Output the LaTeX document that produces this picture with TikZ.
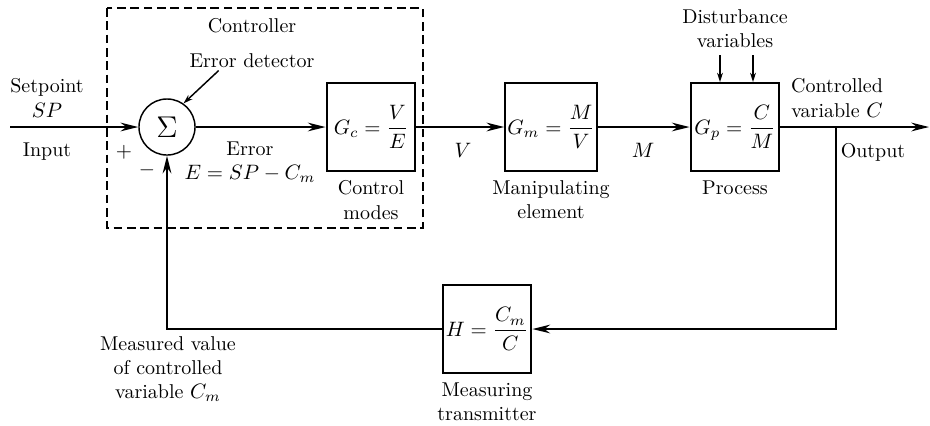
\documentclass[tikz,border=0pt]{standalone}
\usepackage{amsmath}
\usetikzlibrary{arrows.meta, positioning}

\begin{document}
\begin{tikzpicture}[
    x=0.48pt, y=-0.48pt,
    font=\fontsize{9.6}{11.6}\selectfont,
    block/.style={rectangle, draw, line width=0.95pt, minimum width=42.7pt,
        minimum height=42.2pt, inner sep=1pt, align=center},
    sumnode/.style={circle, draw, line width=0.7pt, minimum size=26.9pt, inner sep=0pt},
    lbl/.style={align=center, inner sep=1pt},
    arrow/.style={-{Stealth[length=8.5pt, width=4.2pt]}, line width=0.8pt},
    smallarrow/.style={-{Stealth[length=4.5pt, width=2.8pt]}, line width=0.7pt},
    ctrlframe/.style={draw, dashed, line width=0.8pt, dash pattern=on 4.2pt off 2.2pt}
]
\useasboundingbox (0,0) rectangle (930,425);

% Controller frame
\draw[ctrlframe] (107,8) rectangle (423,228);

% Blocks
\node[sumnode] (sum) at (167,127) {\Large$\Sigma$};
\node[block] (gc) at (371,127) {$G_c = \dfrac{V}{E}$};
\node[block] (gm) at (551,127) {$G_m = \dfrac{M}{V}$};
\node[block] (gp) at (735,127) {$G_p = \dfrac{C}{M}$};
\node[block] (h) at (487,329) {$H = \dfrac{C_m}{C}$};

% Free ends
\coordinate (in) at (10,127);
\coordinate (br) at (836,127);
\coordinate (out) at (929,127);
\coordinate (d1) at (720,55);
\coordinate (d2) at (753,55);

% Labels
\node[lbl] (ctrl) at (252,26) {Controller};
\node[lbl] (errdet) at (252,61) {Error detector};
\node[lbl] (setpt) at (47,98) {Setpoint\\$SP$};
\node[lbl] (input) at (47,152) {Input};
\node[lbl] (plus) at (124,152) {$+$};
\node[lbl] (minus) at (147,170) {$-$};
\node[lbl] (err) at (250,162) {Error\\$E = SP - C_m$};
\node[lbl] (cmodes) at (371,200) {Control\\modes};
\node[lbl] (vlbl) at (463,150) {$V$};
\node[lbl] (melem) at (551,200) {Manipulating\\element};
\node[lbl] (mlbl) at (643,150) {$M$};
\node[lbl] (proc) at (735,188) {Process};
\node[lbl] (dist) at (735,29) {Disturbance\\variables};
\node[lbl] (cvar) at (837,98) {Controlled\\variable $C$};
\node[lbl] (outp) at (873,152) {Output};
\node[lbl] (meas) at (168,369) {Measured value\\of controlled\\variable $C_m$};
\node[lbl] (mtrans) at (487,402) {Measuring\\transmitter};

% Forward path
\draw[arrow] (in) -- (sum);
\draw[arrow] (sum) -- (gc);
\draw[arrow] (gc) -- (gm);
\draw[arrow] (gm) -- (gp);
\draw[arrow] (gp) -- (out);

% Disturbances
\draw[smallarrow] (d1) -- (d1 |- gp.north);
\draw[smallarrow] (d2) -- (d2 |- gp.north);

% Feedback path
\draw[arrow] (br) |- (h.east);
\draw[arrow] (h.west) -| (sum.south);

% Error detector pointer
\draw[smallarrow] ([xshift=-16pt]errdet.south) -- (sum.55);

\end{tikzpicture}
\end{document}
